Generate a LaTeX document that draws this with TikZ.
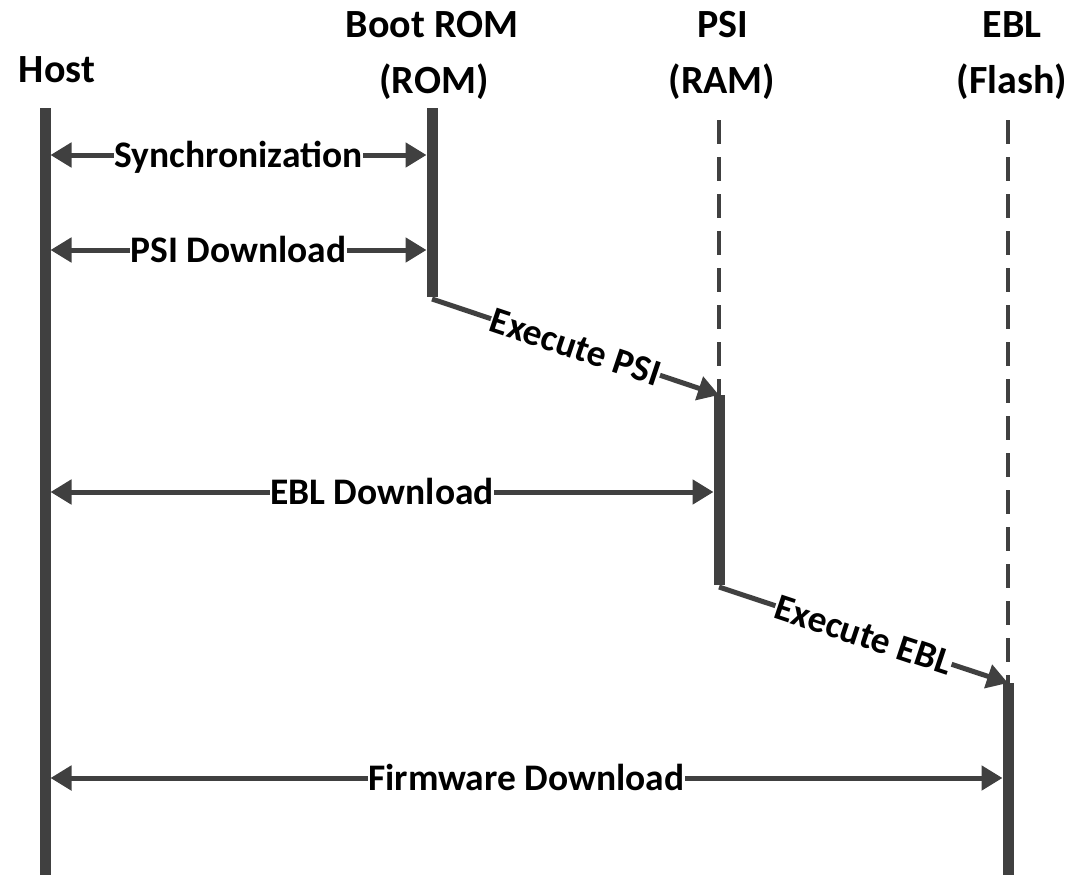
\documentclass[tikz,border=0pt]{standalone}
\usepackage{fontspec}
\setmainfont{Carlito}
\usetikzlibrary{arrows.meta}
\definecolor{ln}{HTML}{404040}
\begin{document}
\begin{tikzpicture}[x=1pt,y=-1pt,
  life/.style={line width=11pt, draw=ln},
  dashlife/.style={line width=4.5pt, draw=ln, dash pattern=on 24pt off 13pt},
  msg/.style={line width=5pt, draw=ln, {Triangle[length=21pt,width=24pt]}-{Triangle[length=21pt,width=24pt]}},
  exec/.style={line width=5pt, draw=ln, -{Triangle[length=21pt,width=24pt]}},
  lbl/.style={fill=white, inner sep=0.5pt, font=\fontsize{37.5}{40}\selectfont\bfseries, text height=24pt, text depth=0pt},
  head/.style={font=\fontsize{40}{44}\selectfont\bfseries, anchor=base, inner sep=0pt}]
\useasboundingbox (0,0) rectangle (1074,875);
% headings
\node[head] (hhost) at (57,82) {Host};
\node[head] (hrom1) at (432,38) {Boot ROM};
\node[head] (hrom2) at (434,93) {(ROM)};
\node[head] (hpsi1) at (723,38) {PSI};
\node[head] (hpsi2) at (722,93) {(RAM)};
\node[head] (hebl1) at (1012,38) {EBL};
\node[head] (hebl2) at (1012,93) {(Flash)};
% lifeline points
\coordinate (h0) at (45,108);
\coordinate (h1) at (45,875);
\coordinate (r0) at (432,108);
\coordinate (r1) at (432,297);
\coordinate (p0) at (719,120);
\coordinate (p1) at (719,395);
\coordinate (p2) at (719,585);
\coordinate (e0) at (1008,120);
\coordinate (e1) at (1008,683);
\coordinate (e2) at (1008,875);
% message end points
\coordinate (sH) at (50.5,155);  \coordinate (sR) at (426.5,155);
\coordinate (dH) at (50.5,250);  \coordinate (dR) at (426.5,250);
\coordinate (bH) at (50.5,492);  \coordinate (bP) at (713.5,492);
\coordinate (fH) at (50.5,778);  \coordinate (fE) at (1002.5,778);
% lifelines
\draw[dashlife] (p0) -- (p1);
\draw[dashlife] (e0) -- (e1);
\draw[life] (h0) -- (h1);
\draw[life] (r0) -- (r1);
\draw[life] (p1) -- (p2);
\draw[life] (e1) -- (e2);
% messages
\draw[msg] (sH) -- node[lbl] (lsync) {Synchronization} (sR);
\draw[msg] (dH) -- node[lbl] (lpsi) {PSI Download} (dR);
\draw[msg] (bH) -- node[lbl] (lebl) {EBL Download} (bP);
\draw[msg] (fH) -- node[lbl] (lfw) {Firmware Download} (fE);
% executions
\draw[exec, line join=round] ([yshift=-2pt]r1) -- node[lbl, sloped] (lxpsi) {Execute PSI} (p1);
\draw[exec, line join=round] ([yshift=-2pt]p2) -- node[lbl, sloped] (lxebl) {Execute EBL} (e1);
\end{tikzpicture}
\end{document}
